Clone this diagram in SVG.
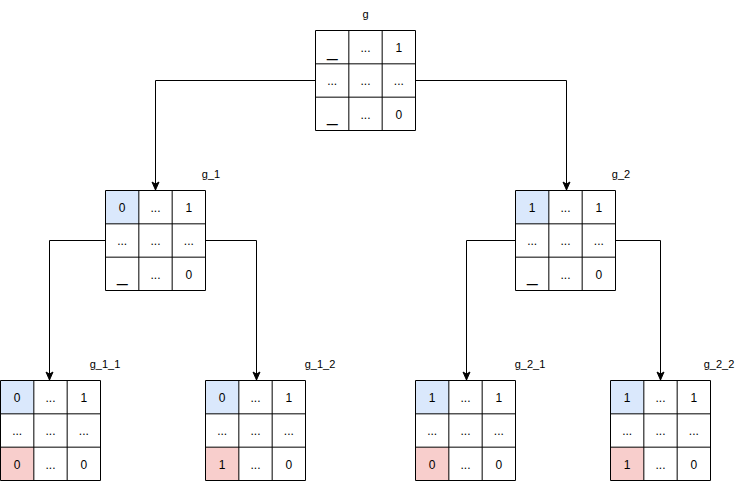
<svg xmlns="http://www.w3.org/2000/svg" xmlns:xlink="http://www.w3.org/1999/xlink" width="756" height="481" viewBox="0 0 756 481">
<style>
.bg{fill:#ffffff}
.frame{fill:none;stroke:#000;stroke-width:1}
.blue{fill:#dae8fc}
.red{fill:#f8cecc}
.t{font-family:"Liberation Sans",Arial,Helvetica,sans-serif;font-size:12px;fill:#000;text-anchor:middle}
.u{font-family:"Liberation Sans",Arial,Helvetica,sans-serif;font-size:19px;fill:#000;text-anchor:middle}
.lbl{font-family:"Liberation Sans",Arial,Helvetica,sans-serif;font-size:11px;fill:#000;text-anchor:middle}
.conn{fill:none;stroke:#000;stroke-width:1}
</style>
<defs>
<marker id="arr" markerUnits="userSpaceOnUse" markerWidth="10" markerHeight="10" viewBox="0 0 10 10" refX="9" refY="5" orient="auto">
<path d="M1,1.5 L9,5 L1,8.5 L3,5 Z" fill="#000" stroke="#000" stroke-width="1"/>
</marker>
<path id="frame" class="frame" d="M0,0 H100 V100 H0 Z M33.33,0 V100 M66.67,0 V100 M0,33.33 H100 M0,66.67 H100"/>
<g id="mid">
<text class="t" x="16.67" y="54.5">...</text>
<text class="t" x="50" y="54.5">...</text>
<text class="t" x="83.33" y="54.5">...</text>
<text class="t" x="50" y="21">...</text>
<text class="t" x="50" y="88">...</text>
</g>
</defs>
<rect class="bg" x="0" y="0" width="756" height="481"/>

<g id="connectors">
<path class="conn" d="M315,80.5 H155.5 V190" marker-end="url(#arr)"/>
<path class="conn" d="M416,80.5 H566.5 V190" marker-end="url(#arr)"/>
<path class="conn" d="M105,240.5 H49.5 V380" marker-end="url(#arr)"/>
<path class="conn" d="M206,240.5 H256.5 V380" marker-end="url(#arr)"/>
<path class="conn" d="M515,240.5 H466.5 V380" marker-end="url(#arr)"/>
<path class="conn" d="M616,240.5 H660.5 V380" marker-end="url(#arr)"/>
</g>

<g id="g" transform="translate(315.5,30.5)">
<use xlink:href="#frame"/>
<use xlink:href="#mid"/>
<text class="u" x="16.67" y="25">_</text>
<text class="t" x="83.33" y="21">1</text>
<text class="u" x="16.67" y="90">_</text>
<text class="t" x="83.33" y="88">0</text>
<text class="lbl" x="50" y="-13">g</text>
</g>

<g id="g_1" transform="translate(105.5,190.5)">
<rect class="blue" x="0" y="0" width="33.33" height="33.33"/>
<use xlink:href="#frame"/>
<use xlink:href="#mid"/>
<text class="t" x="16.67" y="21">0</text>
<text class="t" x="83.33" y="21">1</text>
<text class="u" x="16.67" y="90">_</text>
<text class="t" x="83.33" y="88">0</text>
<text class="lbl" x="105.5" y="-13">g_1</text>
</g>

<g id="g_2" transform="translate(515.5,190.5)">
<rect class="blue" x="0" y="0" width="33.33" height="33.33"/>
<use xlink:href="#frame"/>
<use xlink:href="#mid"/>
<text class="t" x="16.67" y="21">1</text>
<text class="t" x="83.33" y="21">1</text>
<text class="u" x="16.67" y="90">_</text>
<text class="t" x="83.33" y="88">0</text>
<text class="lbl" x="105.5" y="-13">g_2</text>
</g>

<g id="g_1_1" transform="translate(0.5,380.5)">
<rect class="blue" x="0" y="0" width="33.33" height="33.33"/>
<rect class="red" x="0" y="66.67" width="33.33" height="33.33"/>
<use xlink:href="#frame"/>
<use xlink:href="#mid"/>
<text class="t" x="16.67" y="21">0</text>
<text class="t" x="83.33" y="21">1</text>
<text class="t" x="16.67" y="88">0</text>
<text class="t" x="83.33" y="88">0</text>
<text class="lbl" x="104.5" y="-13">g_1_1</text>
</g>

<g id="g_1_2" transform="translate(205.5,380.5)">
<rect class="blue" x="0" y="0" width="33.33" height="33.33"/>
<rect class="red" x="0" y="66.67" width="33.33" height="33.33"/>
<use xlink:href="#frame"/>
<use xlink:href="#mid"/>
<text class="t" x="16.67" y="21">0</text>
<text class="t" x="83.33" y="21">1</text>
<text class="t" x="16.67" y="88">1</text>
<text class="t" x="83.33" y="88">0</text>
<text class="lbl" x="114.5" y="-13">g_1_2</text>
</g>

<g id="g_2_1" transform="translate(415.5,380.5)">
<rect class="blue" x="0" y="0" width="33.33" height="33.33"/>
<rect class="red" x="0" y="66.67" width="33.33" height="33.33"/>
<use xlink:href="#frame"/>
<use xlink:href="#mid"/>
<text class="t" x="16.67" y="21">1</text>
<text class="t" x="83.33" y="21">1</text>
<text class="t" x="16.67" y="88">0</text>
<text class="t" x="83.33" y="88">0</text>
<text class="lbl" x="114.5" y="-13">g_2_1</text>
</g>

<g id="g_2_2" transform="translate(610.5,380.5)">
<rect class="blue" x="0" y="0" width="33.33" height="33.33"/>
<rect class="red" x="0" y="66.67" width="33.33" height="33.33"/>
<use xlink:href="#frame"/>
<use xlink:href="#mid"/>
<text class="t" x="16.67" y="21">1</text>
<text class="t" x="83.33" y="21">1</text>
<text class="t" x="16.67" y="88">1</text>
<text class="t" x="83.33" y="88">0</text>
<text class="lbl" x="108.5" y="-13">g_2_2</text>
</g>
</svg>
